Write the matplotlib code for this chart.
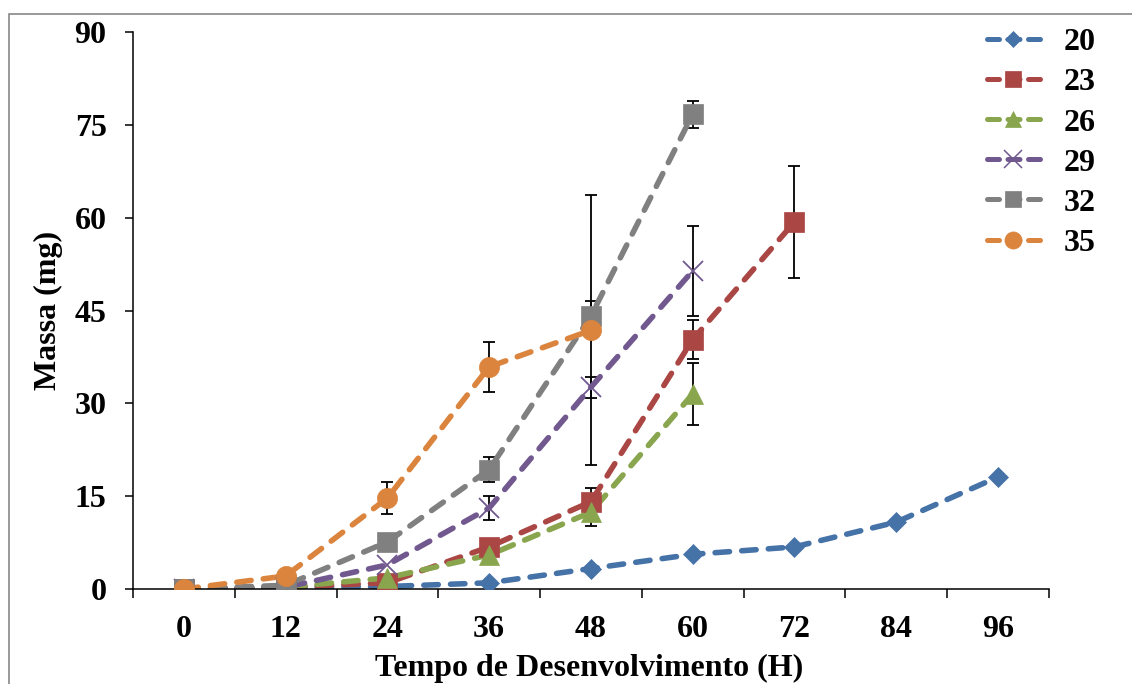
import numpy as np
import matplotlib.pyplot as plt
from matplotlib.patches import Rectangle
from matplotlib.lines import Line2D

plt.rcParams['font.family'] = 'Liberation Serif'
plt.rcParams['font.weight'] = 'bold'

# development time (h) and mean mass (mg) per temperature
hours = [0, 12, 24, 36, 48, 60, 72, 84, 96]

m20 = [0.0, 0.2, 0.4, 1.0, 3.3, 5.6, 6.8, 10.8, 18.1]
m23 = [0.0, 0.3, 1.0, 6.8, 14.1, 40.3, 59.3]
m26 = [0.0, 0.3, 1.8, 5.5, 12.4, 31.5]
m29 = [0.0, 0.3, 3.9, 13.1, 32.6, 51.4]
m32 = [0.0, 0.6, 7.6, 19.3, 44.1, 76.7]
m35 = [0.0, 2.1, 14.7, 35.9, 41.8]

# standard deviations (nan = no bar)
e20 = [np.nan] * 9
e23 = [np.nan, np.nan, np.nan, np.nan, 2.2, 3.2, 9.0]
e26 = [np.nan, np.nan, np.nan, np.nan, 2.2, 5.0]
e29 = [np.nan, np.nan, np.nan, 1.9, 1.7, 7.3]
e32 = [np.nan, np.nan, np.nan, 2.0, 2.4, 2.2]
e35 = [np.nan, np.nan, 2.6, 4.0, 21.8]

temps = ['20', '23', '26', '29', '32', '35']
means = [m20, m23, m26, m29, m32, m35]
errs = [e20, e23, e26, e29, e32, e35]
colors = ['#4572A7', '#AA4643', '#89A54E', '#71588F', '#808080', '#DB843D']
markers = ['D', 's', '^', 'x', 's', 'o']
msizes = [10, 14, 14, 15, 14, 14.5]

fig = plt.figure(figsize=(11.32, 6.84), dpi=100)
ax = fig.add_axes([0.1175, 0.1389, 0.809, 0.8143])

handles = []
for lab, ys, es, c, mk, ms in zip(temps, means, errs, colors, markers, msizes):
    xs = np.arange(len(ys))
    ax.plot(xs, ys, color=c, lw=4.0, dashes=(2.6, 2.2),
            dash_capstyle='round', zorder=2)
    es = np.array(es, dtype=float)
    ok = np.isfinite(es)
    if ok.any():
        ax.errorbar(xs[ok], np.array(ys)[ok], yerr=es[ok], fmt='none',
                    ecolor='black', elinewidth=1.3, capsize=4.5, capthick=1.3,
                    zorder=1.5)
    if mk == 'x':
        ax.plot(xs, ys, ls='none', marker=mk, ms=ms, mec=c, mew=1.3, zorder=3)
    else:
        ax.plot(xs, ys, ls='none', marker=mk, ms=ms, mfc=c, mec=c, mew=0.5, zorder=3)
    handles.append(Line2D([], [], color=c, lw=3.6, dashes=(2.4, 1.7),
                          dash_capstyle='round', marker=mk, ms=ms * 0.85,
                          mfc=c, mec=c, mew=1.1 if mk == 'x' else 0.5))

ax.set_xlim(-0.5, len(hours) - 0.5)
ax.set_ylim(0, 90)
ax.set_yticks(np.arange(0, 91, 15))
ax.set_xticks(np.arange(-0.5, len(hours), 1.0))
ax.set_xticklabels([])
ax.set_xticks(np.arange(len(hours)), minor=True)
ax.set_xticklabels([str(h) for h in hours], minor=True)
ax.tick_params(axis='x', which='major', length=6.5, width=1.1, direction='out')
ax.tick_params(axis='x', which='minor', length=0, pad=19, labelsize=23)
ax.tick_params(axis='y', length=6, width=1.1, direction='out', pad=13, labelsize=23)
for lbl in ax.get_xticklabels(minor=True) + ax.get_yticklabels():
    lbl.set_fontweight('bold')

for s in ['top', 'right']:
    ax.spines[s].set_visible(False)
for s in ['left', 'bottom']:
    ax.spines[s].set_linewidth(1.1)
ax.patch.set_alpha(0)

fig.text(0.0424, 0.546, 'Massa (mg)', rotation=90, ha='center', va='center',
         fontsize=23, fontweight='bold')
fig.text(0.5207, 0.023, 'Tempo de Desenvolvimento (H)', ha='center', va='center',
         fontsize=23, fontweight='bold')

leg = ax.legend(handles, temps, loc='upper left', bbox_to_anchor=(0.872, 0.959),
                bbox_transform=fig.transFigure, frameon=False, fontsize=23,
                handlelength=1.65, handletextpad=0.75, labelspacing=0.335,
                borderaxespad=0, borderpad=0)
for t in leg.get_texts():
    t.set_fontweight('bold')

# chart area border
fig.add_artist(Rectangle((0.008, -0.1), 1.2, 1.0795, transform=fig.transFigure,
                         fill=False, edgecolor='#888888', lw=1.2))

fig.savefig('out.png', dpi=100)
